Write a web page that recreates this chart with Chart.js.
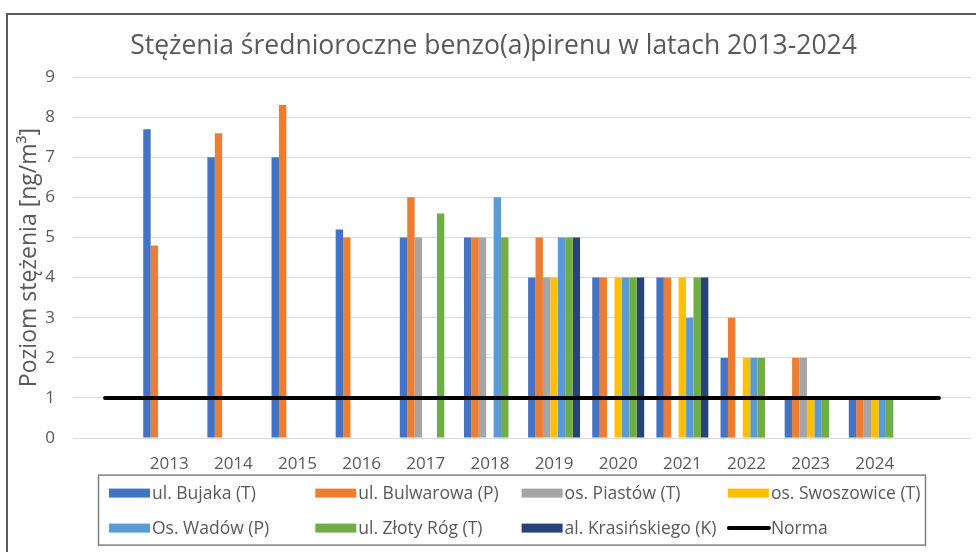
<!DOCTYPE html>
<html>
<head>
<meta charset="utf-8">
<script src="https://cdn.jsdelivr.net/npm/chart.js@4.4.0/dist/chart.umd.min.js"></script>
<style>
  html, body { margin: 0; padding: 0; background: #fff; overflow: hidden; }
  #frame { position: absolute; left: 6px; top: 13px; width: 1000px; height: 600px; border: 2px solid #5a5a5a; }
  #chart { position: absolute; left: 0; top: 0; }
</style>
</head>
<body>
<div id="frame"></div>
<canvas id="chart" width="976" height="552"></canvas>
<script>
// categories (blank slots at both ends, like the original sheet)
var years = ["", "2013", "2014", "2015", "2016", "2017", "2018", "2019", "2020", "2021", "2022", "2023", "2024", ""];

// series values, ng/m3
var bujaka       = [null, 7.7, 7.0, 7.0, 5.2, 5, 5, 4, 4, 4, 2, 1, 1, null];
var bulwarowa    = [null, 4.8, 7.6, 8.3, 5.0, 6, 5, 5, 4, 4, 3, 2, 1, null];
var piastow      = [null, null, null, null, null, 5, 5, 4, null, null, null, 2, 1, null];
var swoszowice   = [null, null, null, null, null, null, null, 4, 4, 4, 2, 1, 1, null];
var wadow        = [null, null, null, null, null, null, 6, 5, 4, 3, 2, 1, 1, null];
var zlotyRog     = [null, null, null, null, null, 5.6, 5, 5, 4, 4, 2, 1, 1, null];
var krasinskiego = [null, null, null, null, null, null, null, 5, 4, 4, null, null, null, null];
var norma        = [1, 1, 1, 1, 1, 1, 1, 1, 1, 1, 1, 1, 1, 1];

var yTicks = [0, 1, 2, 3, 4, 5, 6, 7, 8, 9];

var textColor = "#595959";
Chart.defaults.font.family = "'Open Sans', sans-serif";
Chart.defaults.color = textColor;

function barSet(label, data, color) {
  return {
    type: "bar",
    label: label,
    data: data,
    backgroundColor: color,
    borderWidth: 0,
    categoryPercentage: 0.81,
    barPercentage: 1.0,
    order: 1,
  };
}

// legend laid out as a 4-column grid inside a framed box
var gridLegend = {
  id: "gridLegend",
  afterDraw: function (chart) {
    var c = chart.ctx;
    var area = chart.chartArea;
    var top = area.bottom + 37;
    c.save();
    c.strokeStyle = "#7f7f7f";
    c.lineWidth = 1.5;
    c.strokeRect(98.5, top, 827, 70);
    c.font = "17.5px 'Open Sans', sans-serif";
    c.textBaseline = "middle";
    chart.data.datasets.forEach(function (ds, i) {
      var col = i % 4, row = Math.floor(i / 4);
      var x = 109 + col * 206.3;
      var y = top + 18 + row * 35;
      if (ds.type === "line") {
        c.strokeStyle = ds.borderColor;
        c.lineWidth = 4;
        c.lineCap = "round";
        c.beginPath();
        c.moveTo(x + 1, y);
        c.lineTo(x + 41, y);
        c.stroke();
      } else {
        c.fillStyle = ds.backgroundColor;
        c.fillRect(x, y - 4.5, 41, 9);
      }
      c.fillStyle = textColor;
      c.fillText(ds.label, x + 43, y + 1);
    });
    c.restore();
  },
};

new Chart(document.getElementById("chart"), {
  data: {
    labels: years,
    datasets: [
      barSet("ul. Bujaka (T)", bujaka, "#4472C4"),
      barSet("ul. Bulwarowa (P)", bulwarowa, "#ED7D31"),
      barSet("os. Piastów (T)", piastow, "#A5A5A5"),
      barSet("os. Swoszowice (T)", swoszowice, "#FFC000"),
      barSet("Os. Wadów (P)", wadow, "#5B9BD5"),
      barSet("ul. Złoty Róg (T)", zlotyRog, "#70AD47"),
      barSet("al. Krasińskiego (K)", krasinskiego, "#264478"),
      {
        type: "line",
        label: "Norma",
        data: norma,
        borderColor: "#000000",
        backgroundColor: "#000000",
        borderWidth: 4,
        borderCapStyle: "round",
        pointRadius: 0,
        fill: false,
        order: 0,
      },
    ],
  },
  options: {
    responsive: false,
    animation: false,
    layout: { padding: { left: 16, right: 5, top: 0, bottom: 61.5 } },
    plugins: {
      legend: { display: false },
      tooltip: { enabled: false },
      title: {
        display: true,
        text: "Stężenia średnioroczne benzo(a)pirenu w latach 2013-2024",
        color: textColor,
        font: { size: 26.5, weight: "normal" },
        padding: { top: 31, bottom: 14.2 },
      },
    },
    scales: {
      x: {
        grid: { display: false, drawTicks: false },
        border: { display: false },
        ticks: { color: textColor, font: { size: 17 }, padding: 16, maxRotation: 0, autoSkip: false },
      },
      y: {
        min: 0,
        max: 9,
        afterBuildTicks: function (s) { s.ticks = yTicks.map(function (v) { return { value: v }; }); },
        afterFit: function (s) { s.width = 57; },
        grid: { color: "#d9d9d9", drawTicks: false },
        border: { display: false },
        ticks: { color: textColor, font: { size: 17 }, padding: 18 },
        title: {
          display: true,
          text: "Poziom stężenia [ng/m³]",
          color: textColor,
          font: { size: 23 },
          padding: { top: 0, bottom: 0 },
        },
      },
    },
  },
  plugins: [gridLegend],
});
</script>
</body>
</html>
